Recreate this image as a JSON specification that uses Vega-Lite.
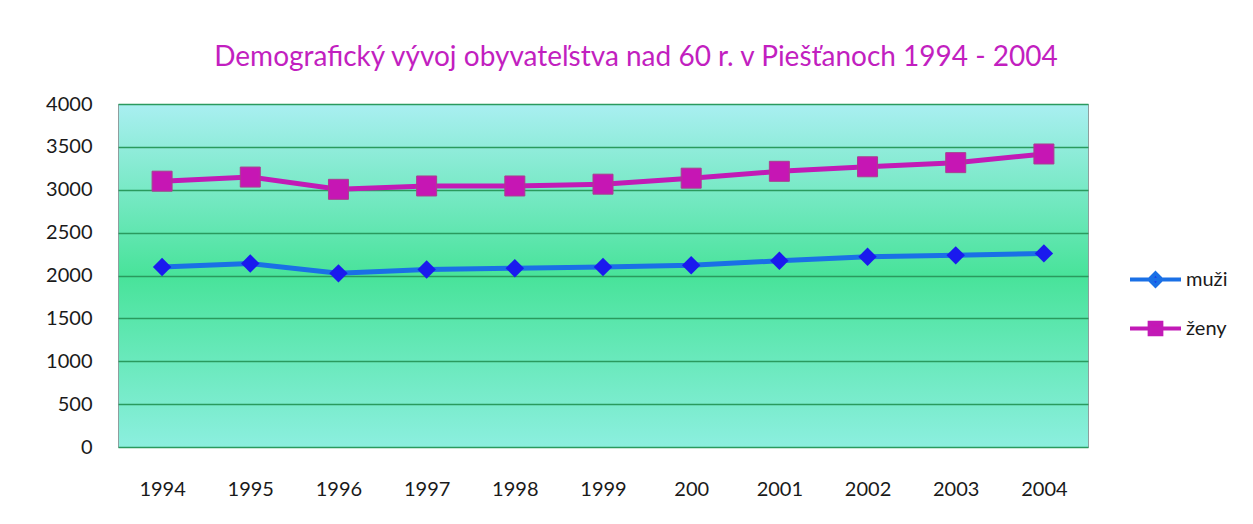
{
  "$schema": "https://vega.github.io/schema/vega-lite/v6.json",
  "autosize": {"type": "none"},
  "padding": {"left": 118, "top": 104, "right": 165, "bottom": 77},
  "width": 970,
  "height": 343,
  "background": "white",
  "title": {
    "text": "Demografický vývoj obyvateľstva nad 60 r. v Piešťanoch 1994 - 2004",
    "anchor": "middle",
    "dx": 33,
    "offset": 0,
    "baseline": "alphabetic",
    "font": "Lato",
    "fontSize": 28,
    "fontWeight": "normal",
    "color": "#c21fc0"
  },
  "config": {
    "view": {
      "fill": {
        "gradient": "linear",
        "x1": 0, "y1": 0, "x2": 0, "y2": 1,
        "stops": [
          {"offset": 0, "color": "#a9eff1"},
          {"offset": 0.5, "color": "#48e39a"},
          {"offset": 1, "color": "#8cefdf"}
        ]
      },
      "stroke": "#8e9e9e",
      "strokeWidth": 1
    },
    "axis": {
      "labelFont": "Lato",
      "labelFontSize": 20,
      "labelColor": "#1a1a1a",
      "ticks": false,
      "domain": false,
      "title": null
    },
    "legend": {
      "labelFont": "Lato",
      "labelFontSize": 20,
      "labelColor": "#1a1a1a"
    }
  },
  "data": {
    "values": [
      {"year": "1994", "series": "muži", "value": 2100},
      {"year": "1995", "series": "muži", "value": 2140},
      {"year": "1996", "series": "muži", "value": 2025},
      {"year": "1997", "series": "muži", "value": 2070},
      {"year": "1998", "series": "muži", "value": 2085},
      {"year": "1999", "series": "muži", "value": 2100},
      {"year": "200", "series": "muži", "value": 2120},
      {"year": "2001", "series": "muži", "value": 2172},
      {"year": "2002", "series": "muži", "value": 2218},
      {"year": "2003", "series": "muži", "value": 2235},
      {"year": "2004", "series": "muži", "value": 2258},
      {"year": "1994", "series": "ženy", "value": 3100},
      {"year": "1995", "series": "ženy", "value": 3148},
      {"year": "1996", "series": "ženy", "value": 3005},
      {"year": "1997", "series": "ženy", "value": 3044},
      {"year": "1998", "series": "ženy", "value": 3044},
      {"year": "1999", "series": "ženy", "value": 3065},
      {"year": "200", "series": "ženy", "value": 3135},
      {"year": "2001", "series": "ženy", "value": 3215},
      {"year": "2002", "series": "ženy", "value": 3268},
      {"year": "2003", "series": "ženy", "value": 3316},
      {"year": "2004", "series": "ženy", "value": 3417}
    ]
  },
  "encoding": {
    "x": {
      "field": "year",
      "type": "ordinal",
      "sort": null,
      "scale": {"type": "point", "padding": 0.5},
      "axis": {"labelAngle": 0, "labelPadding": 32, "grid": false}
    },
    "y": {
      "field": "value",
      "type": "quantitative",
      "scale": {"domain": [0, 4000], "nice": false},
      "axis": {
        "values": [0, 500, 1000, 1500, 2000, 2500, 3000, 3500, 4000],
        "format": "d",
        "grid": true,
        "gridColor": "#2a9a5e",
        "gridWidth": 1.4,
        "labelPadding": 26
      }
    }
  },
  "layer": [
    {
      "mark": {"type": "line", "strokeWidth": 5},
      "encoding": {
        "color": {
          "field": "series",
          "type": "nominal",
          "scale": {"domain": ["muži", "ženy"], "range": ["#1a70e6", "#c21ab6"]},
          "legend": {
            "title": null,
            "orient": "none",
            "legendX": 1010,
            "legendY": 148,
            "symbolSize": 2600,
            "symbolStrokeWidth": 4,
            "rowPadding": 7,
            "labelOffset": 3,
            "encode": {
              "symbols": {
                "update": {
                  "shape": {"signal": "datum.value === 'muži' ? 'M-1,0H1M0,-0.24L0.24,0L0,0.24L-0.24,0Z' : 'M-1,0H1M-0.23,-0.23H0.23V0.23H-0.23Z'"},
                  "fill": {"signal": "datum.value === 'muži' ? '#1a1aee' : '#c616b4'"},
                  "fillOpacity": {"value": 1},
                  "strokeWidth": {"value": 4}
                }
              }
            }
          }
        }
      }
    },
    {
      "transform": [{"filter": "datum.series === 'muži'"}],
      "mark": {"type": "point", "shape": "diamond", "filled": true, "size": 340, "opacity": 1, "color": "#1a1aee"}
    },
    {
      "transform": [{"filter": "datum.series === 'ženy'"}],
      "mark": {"type": "point", "shape": "square", "filled": true, "size": 400, "opacity": 1, "fill": "#c616b4", "stroke": "#a8408e", "strokeWidth": 1}
    }
  ]
}
